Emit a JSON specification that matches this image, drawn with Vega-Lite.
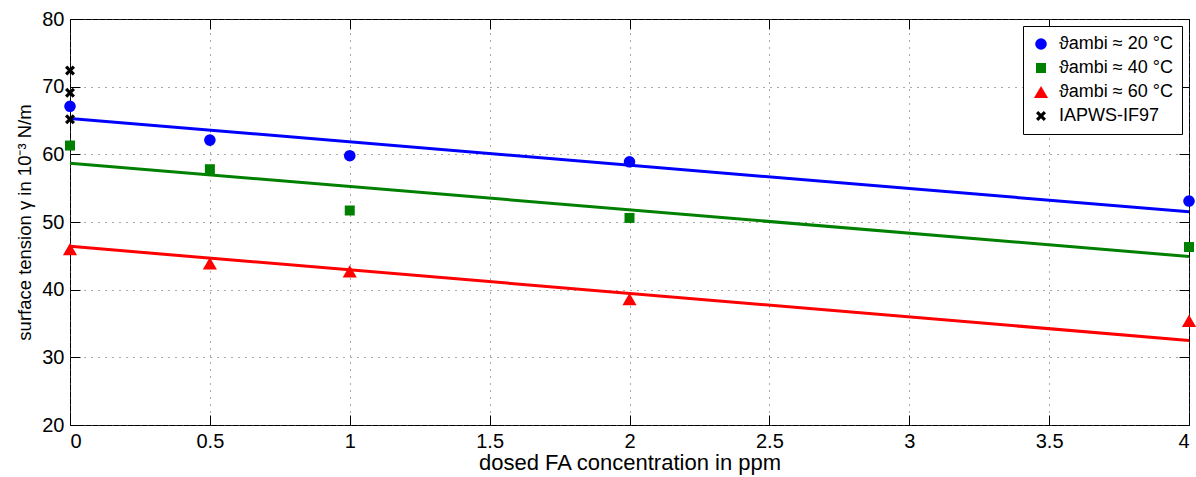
{
  "$schema": "https://vega.github.io/schema/vega-lite/v6.json",
  "width": 1119,
  "height": 406,
  "autosize": {"type": "none"},
  "padding": {"left": 70, "top": 19, "right": 7, "bottom": 52},
  "background": "white",
  "config": {
    "font": "Liberation Sans",
    "view": {"stroke": "black", "strokeWidth": 1},
    "axis": {
      "labelFont": "Liberation Sans",
      "titleFont": "Liberation Sans",
      "labelFontSize": 20,
      "titleFontSize": 22,
      "labelColor": "black",
      "titleColor": "black",
      "titleFontWeight": "normal",
      "tickColor": "black",
      "domain": false,
      "gridColor": "#555555",
      "gridDash": [1, 6],
      "gridOpacity": 1
    }
  },
  "datasets": {
    "fits": [
      {"series": "ϑambi ≈ 20 °C", "ppm": 0, "gamma": 65.3},
      {"series": "ϑambi ≈ 20 °C", "ppm": 4, "gamma": 51.5},
      {"series": "ϑambi ≈ 40 °C", "ppm": 0, "gamma": 58.7},
      {"series": "ϑambi ≈ 40 °C", "ppm": 4, "gamma": 44.9},
      {"series": "ϑambi ≈ 60 °C", "ppm": 0, "gamma": 46.4},
      {"series": "ϑambi ≈ 60 °C", "ppm": 4, "gamma": 32.5}
    ],
    "points": [
      {"series": "ϑambi ≈ 20 °C", "ppm": 0, "gamma": 67.1},
      {"series": "ϑambi ≈ 20 °C", "ppm": 0.5, "gamma": 62.1},
      {"series": "ϑambi ≈ 20 °C", "ppm": 1, "gamma": 59.8},
      {"series": "ϑambi ≈ 20 °C", "ppm": 2, "gamma": 58.9},
      {"series": "ϑambi ≈ 20 °C", "ppm": 4, "gamma": 53.1},
      {"series": "ϑambi ≈ 40 °C", "ppm": 0, "gamma": 61.3},
      {"series": "ϑambi ≈ 40 °C", "ppm": 0.5, "gamma": 57.8},
      {"series": "ϑambi ≈ 40 °C", "ppm": 1, "gamma": 51.7},
      {"series": "ϑambi ≈ 40 °C", "ppm": 2, "gamma": 50.6},
      {"series": "ϑambi ≈ 40 °C", "ppm": 4, "gamma": 46.3},
      {"series": "ϑambi ≈ 60 °C", "ppm": 0, "gamma": 46.0},
      {"series": "ϑambi ≈ 60 °C", "ppm": 0.5, "gamma": 43.9},
      {"series": "ϑambi ≈ 60 °C", "ppm": 1, "gamma": 42.7},
      {"series": "ϑambi ≈ 60 °C", "ppm": 2, "gamma": 38.6},
      {"series": "ϑambi ≈ 60 °C", "ppm": 4, "gamma": 35.4},
      {"series": "IAPWS-IF97", "ppm": 0, "gamma": 72.4},
      {"series": "IAPWS-IF97", "ppm": 0, "gamma": 69.1},
      {"series": "IAPWS-IF97", "ppm": 0, "gamma": 65.2}
    ]
  },
  "layer": [
    {
      "data": {"name": "fits"},
      "mark": {"type": "line", "strokeWidth": 3, "clip": true},
      "encoding": {
        "x": {
          "field": "ppm", "type": "quantitative",
          "scale": {"domain": [0, 4], "nice": false, "zero": false},
          "axis": {
            "orient": "bottom",
            "values": [0, 0.5, 1, 1.5, 2, 2.5, 3, 3.5, 4],
            "format": "~g",
            "grid": true,
            "tickSize": -10,
            "labelPadding": 16,
            "title": "dosed FA concentration in ppm",
            "titlePadding": 1
          }
        },
        "y": {
          "field": "gamma", "type": "quantitative",
          "scale": {"domain": [20, 80], "nice": false, "zero": false},
          "axis": {
            "orient": "left",
            "values": [20, 30, 40, 50, 60, 70, 80],
            "grid": true,
            "tickSize": -10,
            "labelPadding": 16,
            "title": "surface tension γ in 10⁻³ N/m",
            "titleFontSize": 18.5,
            "titlePadding": 7
          }
        },
        "stroke": {
          "field": "series", "type": "nominal",
          "scale": {
            "domain": ["ϑambi ≈ 20 °C", "ϑambi ≈ 40 °C", "ϑambi ≈ 60 °C"],
            "range": ["#0000FF", "#008000", "#FF0000"]
          },
          "legend": null
        }
      }
    },
    {
      "data": {"name": "points"},
      "mark": {"type": "point", "filled": true, "opacity": 1},
      "encoding": {
        "x": {
          "field": "ppm", "type": "quantitative",
          "axis": {
            "orient": "top", "labels": false, "title": null, "grid": false,
            "values": [0, 0.5, 1, 1.5, 2, 2.5, 3, 3.5, 4],
            "tickSize": -10
          }
        },
        "y": {
          "field": "gamma", "type": "quantitative",
          "axis": {
            "orient": "right", "labels": false, "title": null, "grid": false,
            "values": [20, 30, 40, 50, 60, 70, 80],
            "tickSize": -10
          }
        },
        "size": {
          "field": "series", "type": "ordinal",
          "scale": {
            "type": "ordinal",
            "domain": ["ϑambi ≈ 20 °C", "ϑambi ≈ 40 °C", "ϑambi ≈ 60 °C", "IAPWS-IF97"],
            "range": [135, 100, 200, 100]
          },
          "legend": null
        },
        "color": {
          "field": "series", "type": "nominal",
          "scale": {
            "domain": ["ϑambi ≈ 20 °C", "ϑambi ≈ 40 °C", "ϑambi ≈ 60 °C", "IAPWS-IF97"],
            "range": ["#0000FF", "#008000", "#FF0000", "#000000"]
          },
          "legend": {
            "title": null,
            "orient": "top-right",
            "offset": 7,
            "fillColor": "white",
            "strokeColor": "black",
            "padding": 9,
            "labelFontSize": 18,
            "labelColor": "black",
            "labelLimit": 0,
            "symbolSize": 110,
            "rowPadding": 6,
            "labelOffset": 9
          }
        },
        "shape": {
          "field": "series", "type": "nominal",
          "scale": {
            "domain": ["ϑambi ≈ 20 °C", "ϑambi ≈ 40 °C", "ϑambi ≈ 60 °C", "IAPWS-IF97"],
            "range": ["circle", "square", "triangle-up", "M-1,-0.55L-0.55,-1L0,-0.45L0.55,-1L1,-0.55L0.45,0L1,0.55L0.55,1L0,0.45L-0.55,1L-1,0.55L-0.45,0Z"]
          }
        }
      }
    }
  ],
  "resolve": {"axis": {"x": "independent", "y": "independent"}}
}
